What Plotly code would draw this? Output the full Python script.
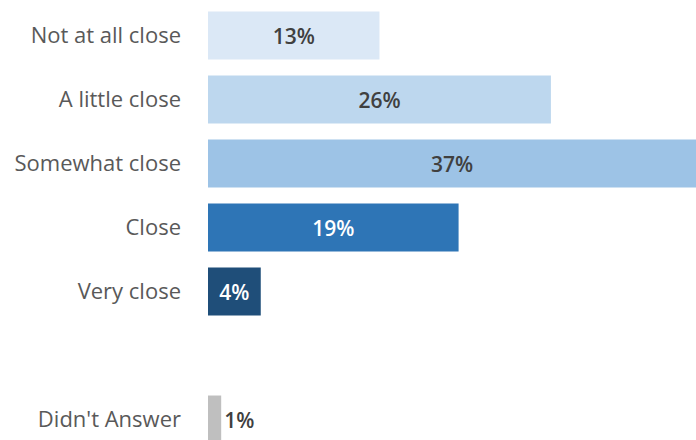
import plotly.graph_objects as go

# Survey responses: how close respondents feel
categories = ["Not at all close", "A little close", "Somewhat close", "Close", "Very close", "Didn't Answer"]
values = [13, 26, 37, 19, 4, 1]
# Row slots (slot 5 is left blank to separate the non-response row)
rows = [0, 1, 2, 3, 4, 6]

bar_colors = ["#dbe8f6", "#bdd7ee", "#9dc3e6", "#2e75b6", "#1f4e79", "#bfbfbf"]
text_colors = ["#404040", "#404040", "#404040", "#ffffff", "#ffffff", "#404040"]
text_pos = ["inside", "inside", "inside", "inside", "inside", "outside"]

label_font = dict(family="Open Sans", size=21, weight=600)

fig = go.Figure(
    go.Bar(
        x=values,
        y=rows,
        orientation="h",
        width=0.75,
        marker=dict(color=bar_colors, line=dict(width=0)),
        text=[f"{v}%" for v in values],
        textposition=text_pos,
        insidetextanchor="middle",
        textangle=0,
        textfont=dict(**label_font, color=text_colors),
        outsidetextfont=dict(**label_font, color="#404040"),
        insidetextfont=dict(**label_font, color=text_colors),
        cliponaxis=True,
        hoverinfo="skip",
    )
)

fig.update_layout(
    width=696,
    height=440,
    margin=dict(l=208, r=0, t=0, b=0),
    paper_bgcolor="white",
    plot_bgcolor="white",
    showlegend=False,
    uniformtext=dict(mode=False),
)
fig.update_xaxes(range=[0, 37], visible=False, showgrid=False, zeroline=False)
fig.update_yaxes(
    range=[6.32, -0.555],
    tickmode="array",
    tickvals=rows,
    ticktext=categories,
    showgrid=False,
    zeroline=False,
    showline=False,
    ticks="",
    ticklabelstandoff=26,
    tickfont=dict(family="Open Sans", size=22, color="#595959"),
)

fig.write_html("out.html")
